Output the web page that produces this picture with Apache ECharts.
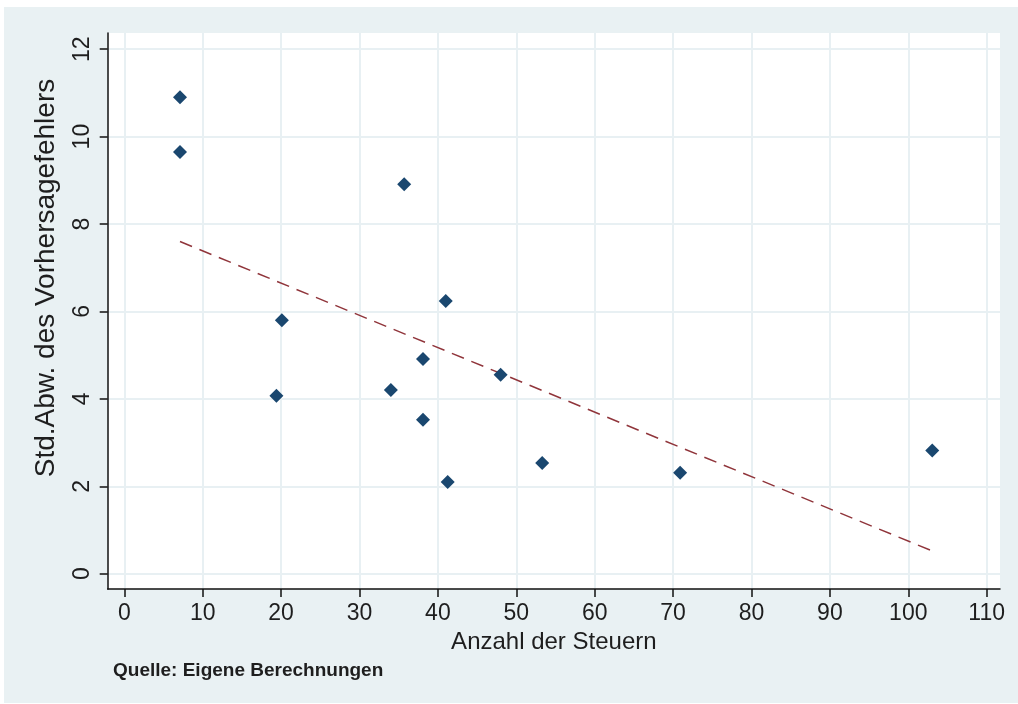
<!DOCTYPE html>
<html>
<head>
<meta charset="utf-8">
<script src="https://cdn.jsdelivr.net/npm/echarts@6/dist/echarts.min.js"></script>
<style>html,body{margin:0;padding:0;background:#fff;}#c{width:1018px;height:704px;}</style>
</head>
<body>
<div id="c"></div>
<script>
// Data
const anzahlSteuern = [7.1, 7.1, 35.7, 41.0, 20.1, 38.1, 48.0, 34.0, 19.4, 38.1, 53.3, 41.25, 70.9, 103.06];
const stdAbwFehler  = [10.90, 9.65, 8.91, 6.24, 5.80, 4.91, 4.55, 4.20, 4.07, 3.52, 2.53, 2.10, 2.31, 2.82];
// fitted line end points
const fitX = [7.1, 103.06];
const fitY = [7.60, 0.52];
const xTicks = [0, 10, 20, 30, 40, 50, 60, 70, 80, 90, 100, 110];
const yTicks = [0, 2, 4, 6, 8, 10, 12];
const xTitle = 'Anzahl der Steuern';
const yTitle = 'Std.Abw. des Vorhersagefehlers';
const note = 'Quelle: Eigene Berechnungen';

const points = anzahlSteuern.map((x, i) => [x, stdAbwFehler[i]]);
const fitLine = fitX.map((x, i) => [x, fitY[i]]);

const FONT = 'Liberation Sans, Arial, sans-serif';
const chart = echarts.init(document.getElementById('c'), null, {renderer: 'canvas'});
chart.setOption({
  backgroundColor: '#ffffff',
  animation: false,
  graphic: [
    {type: 'rect', z: -10, silent: true, shape: {x: 4, y: 7, width: 1014, height: 696}, style: {fill: '#e9f1f3'}},
    {type: 'text', left: 113, top: 661, style: {text: note, font: 'bold 19px ' + FONT, fill: '#1e1e1e'}}
  ],
  grid: {left: 107.7, right: 18, top: 33, bottom: 115, show: true, backgroundColor: '#ffffff', borderWidth: 0, containLabel: false, outerBoundsMode: 'none'},
  xAxis: {
    type: 'value', min: -2.12, max: 111.7,
    name: xTitle, nameLocation: 'middle', nameGap: 38,
    nameTextStyle: {fontFamily: FONT, fontSize: 24, color: '#1e1e1e'},
    axisLine: {onZero: false, lineStyle: {color: '#111', width: 1.5}},
    axisTick: {show: true, inside: false, length: 8, customValues: xTicks, lineStyle: {color: '#111', width: 1.5}},
    axisLabel: {customValues: xTicks, margin: 13, fontFamily: FONT, fontSize: 23, color: '#1e1e1e'},
    splitLine: {show: true, lineStyle: {color: '#e8f0f3', width: 2}}
  },
  yAxis: {
    type: 'value', min: -0.35, max: 12.37,
    name: yTitle, nameLocation: 'middle', nameRotate: 90, nameGap: 47,
    nameTextStyle: {fontFamily: FONT, fontSize: 28, color: '#1e1e1e', padding: [0, 0, 0, 66]},
    axisLine: {show: true, onZero: false, lineStyle: {color: '#111', width: 1.5}},
    axisTick: {show: true, inside: false, length: 8, customValues: yTicks, lineStyle: {color: '#111', width: 1.5}},
    axisLabel: {customValues: yTicks, rotate: 90, margin: 14, fontFamily: FONT, fontSize: 23, color: '#1e1e1e'},
    splitLine: {show: true, lineStyle: {color: '#e8f0f3', width: 2}}
  },
  series: [
    {type: 'line', data: fitLine, symbol: 'none', z: 2,
     lineStyle: {color: '#90353b', width: 1.5, type: [13, 8]}},
    {type: 'scatter', data: points, symbol: 'diamond', symbolSize: 14, z: 3,
     itemStyle: {color: '#1a476f', opacity: 1}}
  ]
});
</script>
</body>
</html>
